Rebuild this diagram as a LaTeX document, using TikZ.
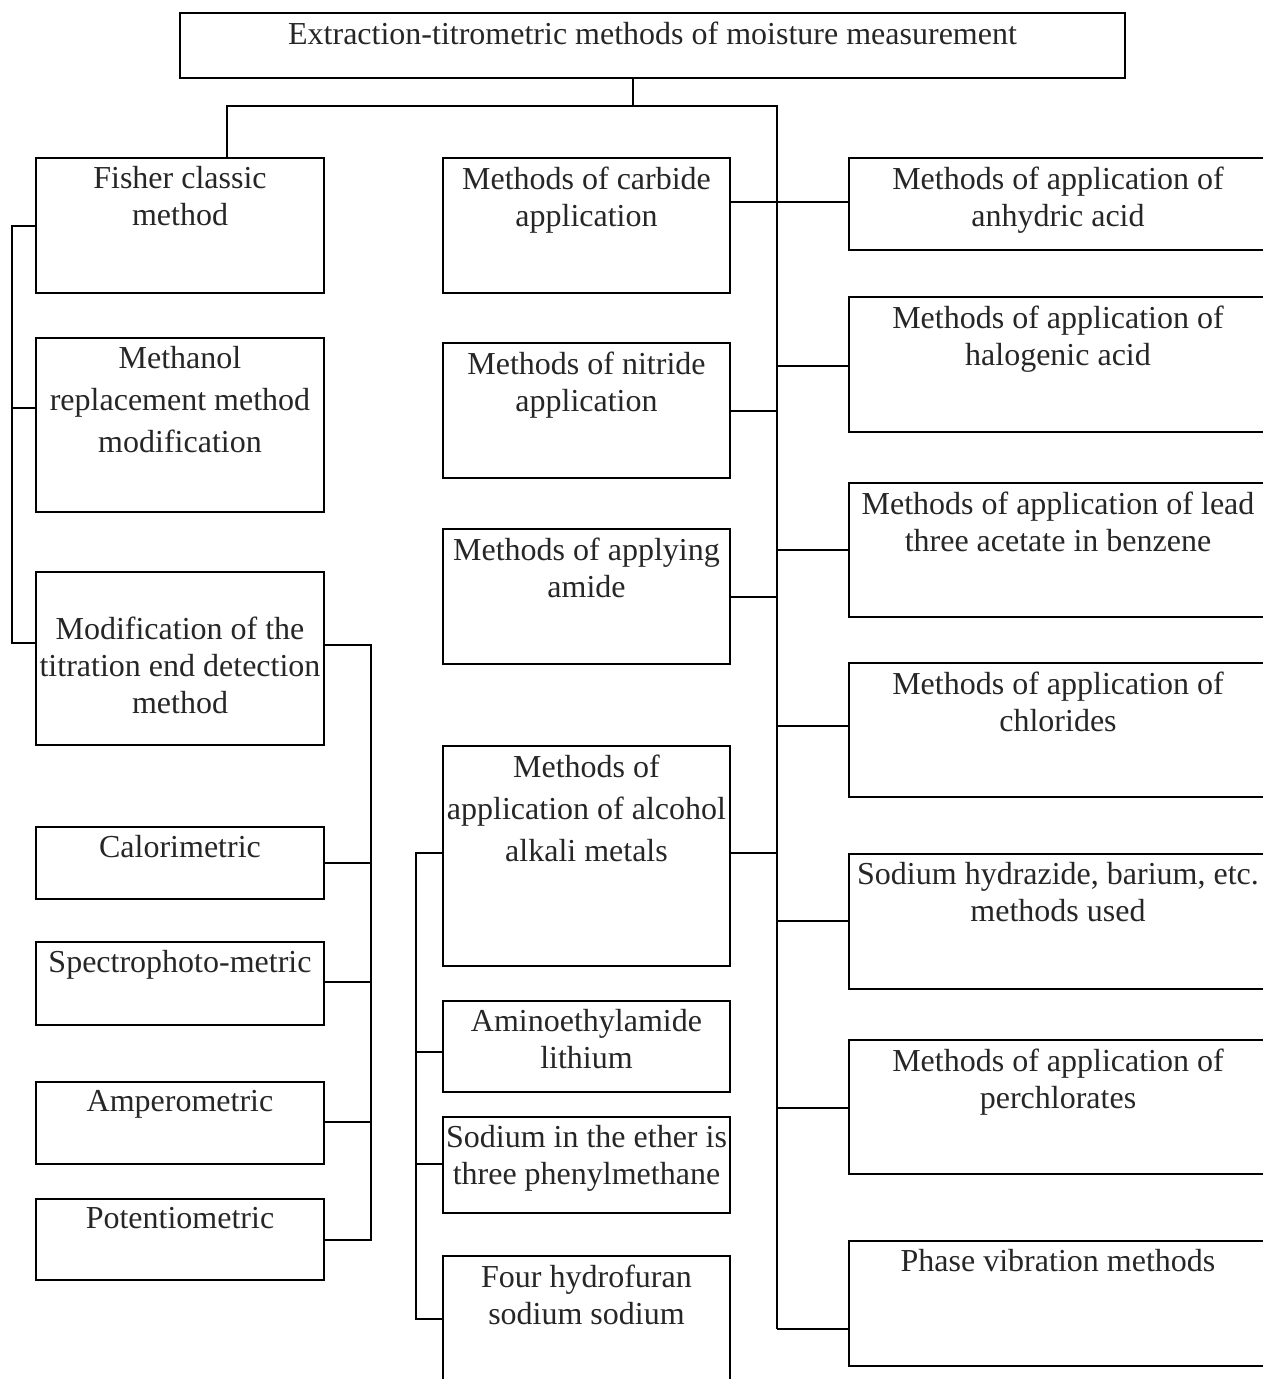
\documentclass[tikz,border=0pt]{standalone}
\usepackage{fontspec}
\setmainfont{Liberation Serif}
\begin{document}
\begin{tikzpicture}[x=1pt,y=-1pt,
  box/.style={draw=black, line width=2pt, rectangle, inner sep=0pt, anchor=north west},
  txt/.style={anchor=north, inner sep=0pt, align=center, text=black!85, font=\fontsize{32}{37}\selectfont},
  txtw/.style={txt, font=\fontsize{32}{42}\selectfont},
  conn/.style={draw=black, line width=2pt}]
\useasboundingbox (0,0) rectangle (1262,1379);
% top
\node[box, minimum width=945pt, minimum height=65pt] (top) at (179,12) {};
\node[txt] (topT) at ([yshift=-10pt]top.north) {Extraction-titrometric methods of moisture measurement};
% left column
\node[box, minimum width=288pt, minimum height=135pt] (fisher) at (35,157) {};
\node[txt] (fisherT) at ([yshift=-9.5pt]fisher.north) {Fisher classic\\method};
\node[box, minimum width=288pt, minimum height=174pt] (methanol) at (35,337) {};
\node[txtw] (methanolT) at ([yshift=-9.5pt]methanol.north) {Methanol\\replacement method\\modification};
\node[box, minimum width=288pt, minimum height=173pt] (modif) at (35,571) {};
\node[txt] (modifT) at ([yshift=-45.5pt]modif.north) {Modification of the\\titration end detection\\method};
\node[box, minimum width=288pt, minimum height=72pt] (calor) at (35,826) {};
\node[txt] (calorT) at ([yshift=-9.5pt]calor.north) {Calorimetric};
\node[box, minimum width=288pt, minimum height=83pt] (spectro) at (35,941) {};
\node[txt] (spectroT) at ([yshift=-9.5pt]spectro.north) {Spectrophoto-metric};
\node[box, minimum width=288pt, minimum height=82pt] (ampero) at (35,1081) {};
\node[txt] (amperoT) at ([yshift=-9.5pt]ampero.north) {Amperometric};
\node[box, minimum width=288pt, minimum height=81pt] (potent) at (35,1198) {};
\node[txt] (potentT) at ([yshift=-9.5pt]potent.north) {Potentiometric};
% middle column
\node[box, minimum width=287pt, minimum height=135pt] (carbide) at (442,157) {};
\node[txt] (carbideT) at ([yshift=-9.5pt]carbide.north) {Methods of carbide\\application};
\node[box, minimum width=287pt, minimum height=135pt] (nitride) at (442,342) {};
\node[txt] (nitrideT) at ([yshift=-9.5pt]nitride.north) {Methods of nitride\\application};
\node[box, minimum width=287pt, minimum height=135pt] (amide) at (442,528) {};
\node[txt] (amideT) at ([yshift=-9.5pt]amide.north) {Methods of applying\\amide};
\node[box, minimum width=287pt, minimum height=220pt] (alcohol) at (442,745) {};
\node[txtw] (alcoholT) at ([yshift=-9.5pt]alcohol.north) {Methods of\\application of alcohol\\alkali metals};
\node[box, minimum width=287pt, minimum height=91pt] (amino) at (442,1000) {};
\node[txt] (aminoT) at ([yshift=-9.5pt]amino.north) {Aminoethylamide\\lithium};
\node[box, minimum width=287pt, minimum height=96pt] (ether) at (442,1116) {};
\node[txt] (etherT) at ([yshift=-9.5pt]ether.north) {Sodium in the ether is\\three phenylmethane};
\node[box, minimum width=287pt, minimum height=150pt] (furan) at (442,1255) {};
\node[txt] (furanT) at ([yshift=-9.5pt]furan.north) {Four hydrofuran\\sodium sodium};
% right column
\node[box, minimum width=418pt, minimum height=92pt] (anhyd) at (848,157) {};
\node[txt] (anhydT) at ([yshift=-9.5pt]anhyd.north) {Methods of application of\\anhydric acid};
\node[box, minimum width=418pt, minimum height=135pt] (halog) at (848,296) {};
\node[txt] (halogT) at ([yshift=-9.5pt]halog.north) {Methods of application of\\halogenic acid};
\node[box, minimum width=418pt, minimum height=134pt] (lead) at (848,482) {};
\node[txt] (leadT) at ([yshift=-9.5pt]lead.north) {Methods of application of lead\\three acetate in benzene};
\node[box, minimum width=418pt, minimum height=134pt] (chlor) at (848,662) {};
\node[txt] (chlorT) at ([yshift=-9.5pt]chlor.north) {Methods of application of\\chlorides};
\node[box, minimum width=418pt, minimum height=135pt] (hydraz) at (848,853) {};
\node[txt] (hydrazT) at ([yshift=-9.5pt]hydraz.north) {Sodium hydrazide, barium, etc.\\methods used};
\node[box, minimum width=418pt, minimum height=134pt] (perchl) at (848,1039) {};
\node[txt] (perchlT) at ([yshift=-9.5pt]perchl.north) {Methods of application of\\perchlorates};
\node[box, minimum width=418pt, minimum height=125pt] (phase) at (848,1240) {};
\node[txt] (phaseT) at ([yshift=-9.5pt]phase.north) {Phase vibration methods};
% junction coordinates
\coordinate (j0) at (633,106);
\coordinate (jL) at (227,106);
\coordinate (jR) at (777,106);
\coordinate (bL) at (12,0);
\coordinate (bM) at (371,0);
\coordinate (bC) at (416,0);
% main connectors
\draw[conn] (j0 |- top.south) -- (j0);
\draw[conn] (jL |- fisher.north) -- (jL) -- (jR) -- (jR |- 0,1329);
% left bracket
\draw[conn] (fisher.west |- 0,226) -| (bL |- 0,643) -- (modif.west |- 0,643);
\draw[conn] (bL |- 0,408) -- (methanol.west |- 0,408);
% measurement bracket
\draw[conn] (modif.east |- 0,645) -| (bM |- 0,1240) -- (potent.east |- 0,1240);
\draw[conn] (calor.east |- 0,863) -- (bM |- 0,863);
\draw[conn] (spectro.east |- 0,982) -- (bM |- 0,982);
\draw[conn] (ampero.east |- 0,1122) -- (bM |- 0,1122);
% middle-left bracket
\draw[conn] (alcohol.west |- 0,853) -| (bC |- 0,1319) -- (furan.west |- 0,1319);
\draw[conn] (bC |- 0,1052) -- (amino.west |- 0,1052);
\draw[conn] (bC |- 0,1164) -- (ether.west |- 0,1164);
% right trunk ticks
\draw[conn] (carbide.east |- 0,202) -- (anhyd.west |- 0,202);
\draw[conn] (jR |- 0,366) -- (halog.west |- 0,366);
\draw[conn] (nitride.east |- 0,411) -- (jR |- 0,411);
\draw[conn] (jR |- 0,550) -- (lead.west |- 0,550);
\draw[conn] (amide.east |- 0,597) -- (jR |- 0,597);
\draw[conn] (jR |- 0,726) -- (chlor.west |- 0,726);
\draw[conn] (alcohol.east |- 0,853) -- (jR |- 0,853);
\draw[conn] (jR |- 0,921) -- (hydraz.west |- 0,921);
\draw[conn] (jR |- 0,1108) -- (perchl.west |- 0,1108);
\draw[conn] (jR |- 0,1329) -- (phase.west |- 0,1329);
\end{tikzpicture}
\end{document}
